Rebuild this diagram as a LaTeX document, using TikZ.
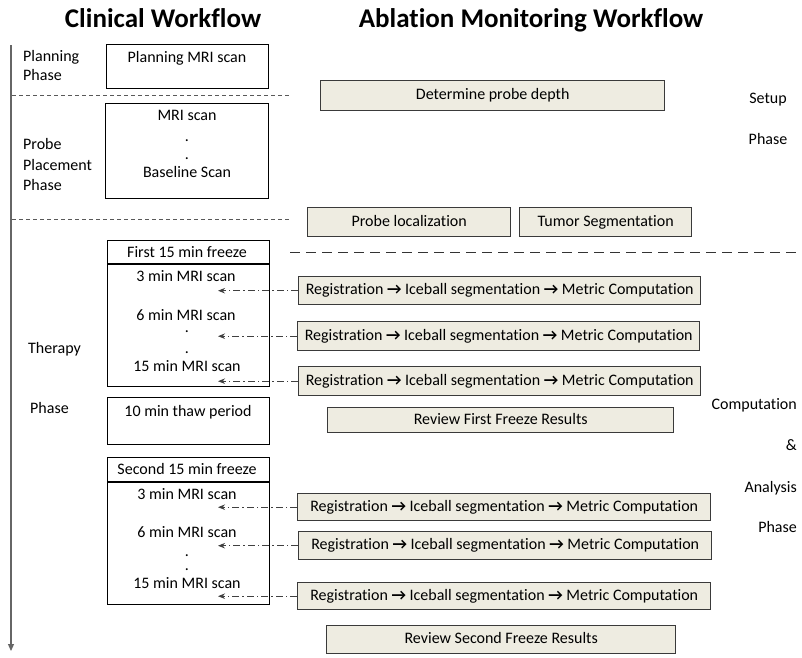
\documentclass[tikz,border=0pt]{standalone}
\usepackage{fontspec}
\setmainfont{Carlito}[Ligatures=NoCommon]
\usetikzlibrary{arrows.meta}
\definecolor{beige}{HTML}{EEECE1}
\definecolor{edge}{HTML}{3A3A3A}
\newcommand{\ra}{{\bfseries →}}
\newcommand{\regtext}{Registration \ra{} Iceball segmentation \ra{} Metric Computation}
\begin{document}
\begin{tikzpicture}[x=1pt,y=-1pt,
  every node/.style={font=\fontsize{16}{19}\selectfont, inner sep=0pt, text height=11pt, text depth=3pt},
  cbox/.style={draw=black, line width=1.1pt, anchor=north west},
  bbox/.style={draw=edge, fill=beige, line width=1.4pt, anchor=north west},
  ttl/.style={font=\fontsize{27}{32}\selectfont\bfseries, text height=19pt, text depth=6pt},
  dotn/.style={text height=2pt, text depth=0pt},
  lbl/.style={anchor=west},
  rlbl/.style={anchor=east},
  sdash/.style={draw=black!65, line width=0.9pt, dash pattern=on 4pt off 3pt},
  ldash/.style={draw=black!80, line width=1pt, dash pattern=on 10pt off 6pt},
  conn/.style={draw=black!75, line width=0.9pt, dash pattern=on 7pt off 3pt on 1.5pt off 3pt, -{Stealth[length=7pt,width=5.5pt]}},
]
\useasboundingbox (0,0) rectangle (802,657);

% titles
\node[ttl] (t1) at (163,21) {Clinical Workflow};
\node[ttl] (t2) at (531,21) {Ablation Monitoring Workflow};

% time axis
\coordinate (vtop) at (11,45);
\coordinate (vbot) at (11,651);
\draw[black!60, line width=1.1pt, -{Triangle[length=7pt,width=6pt]}] (vtop) -- (vbot);

% phase labels left
\node[lbl] (pp1) at (23,57) {Planning};
\node[lbl] (pp2) at (23,76) {Phase};
\node[lbl] (ppp1) at (23,145) {Probe};
\node[lbl] (ppp2) at (23,166) {Placement};
\node[lbl] (ppp3) at (23,186) {Phase};
\node[lbl] (th1) at (28,349) {Therapy};
\node[lbl] (th2) at (30,409) {Phase};

% phase labels right
\node (su1) at (768,99) {Setup};
\node (su2) at (768,140) {Phase};
\node[rlbl] (ca1) at (797,405) {Computation};
\node[rlbl] (ca2) at (797,446) {\&};
\node[rlbl] (ca3) at (797,488) {Analysis};
\node[rlbl] (ca4) at (797,528) {Phase};

% dashed separators
\coordinate (d1a) at (12,95);  \coordinate (d1b) at (290,95);
\coordinate (d2a) at (12,219); \coordinate (d2b) at (290,219);
\coordinate (d3a) at (290,252); \coordinate (d3b) at (802,252);
\draw[sdash] (d1a) -- (d1b);
\draw[sdash] (d2a) -- (d2b);
\draw[ldash] (d3a) -- (d3b);

% clinical boxes
\node[cbox, minimum width=162pt, minimum height=44pt] (plan) at (106,44) {};
\node (plant) at (187,58) {Planning MRI scan};

\node[cbox, minimum width=163pt, minimum height=95pt] (place) at (105,103) {};
\node (pl1) at (187,116) {MRI scan};
\node[dotn] (pl2) at (187,140) {.};
\node[dotn] (pl3) at (187,158) {.};
\node (pl4) at (187,173) {Baseline Scan};

\node[cbox, minimum width=162pt, minimum height=146pt] (f1) at (107,240) {};
\coordinate (f1h) at (107,264); \coordinate (f1he) at (269,264);
\draw[line width=1.1pt] (f1h) -- (f1he);
\node (f1t) at (187,253) {First 15 min freeze};
\node (f1a) at (186,277) {3 min MRI scan};
\node (f1b) at (186,316) {6 min MRI scan};
\node[dotn] (f1c) at (187,331) {.};
\node[dotn] (f1d) at (187,352) {.};
\node (f1e) at (187,367) {15 min MRI scan};

\node[cbox, minimum width=162pt, minimum height=47pt] (thaw) at (107,397) {};
\node (thawt) at (188,412) {10 min thaw period};

\node[cbox, minimum width=162pt, minimum height=147pt] (f2) at (107,457) {};
\coordinate (f2h) at (107,482); \coordinate (f2he) at (269,482);
\draw[line width=1.1pt] (f2h) -- (f2he);
\node (f2t) at (187,470) {Second 15 min freeze};
\node (f2a) at (187,495) {3 min MRI scan};
\node (f2b) at (187,533) {6 min MRI scan};
\node[dotn] (f2c) at (187,555) {.};
\node[dotn] (f2d) at (187,569) {.};
\node (f2e) at (187,584) {15 min MRI scan};

% ablation monitoring boxes
\node[bbox, minimum width=344pt, minimum height=30pt] (det) at (320,80) {Determine probe depth};
\node[bbox, minimum width=203pt, minimum height=29pt] (ploc) at (307,207) {Probe localization};
\node[bbox, minimum width=172pt, minimum height=29pt] (tseg) at (519,207) {Tumor Segmentation};

\node[bbox, minimum width=402pt, minimum height=28pt] (r1) at (298,276) {\regtext};
\node[bbox, minimum width=402pt, minimum height=29pt] (r2) at (297,321) {\regtext};
\node[bbox, minimum width=402pt, minimum height=29pt] (r3) at (298,366) {\regtext};
\node[bbox, minimum width=346pt, minimum height=25pt] (rv1) at (327,407) {Review First Freeze Results};

\node[bbox, minimum width=413pt, minimum height=27pt] (r4) at (297,493) {\regtext};
\node[bbox, minimum width=413pt, minimum height=28pt] (r5) at (298,531) {\regtext};
\node[bbox, minimum width=413pt, minimum height=27pt] (r6) at (297,582) {\regtext};
\node[bbox, minimum width=349pt, minimum height=28pt] (rv2) at (326,625) {Review Second Freeze Results};

% feedback connectors
\coordinate (tip) at (218,0);
\foreach \r in {r1,r2,r3,r4,r5,r6}{
  \draw[conn] (\r.west) -- (\r.west -| tip);
}
\end{tikzpicture}
\end{document}
